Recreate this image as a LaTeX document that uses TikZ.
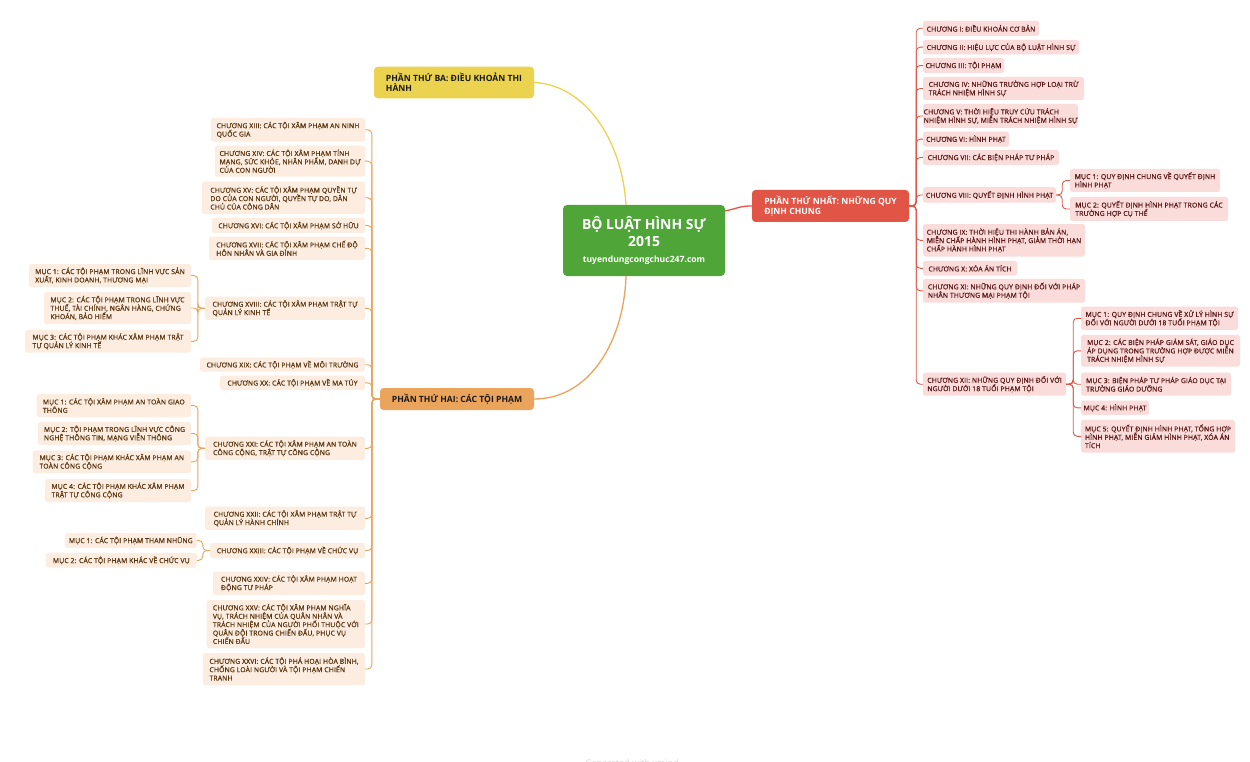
\documentclass[tikz,border=0pt]{standalone}
\usepackage{fontspec}
\setmainfont{Open Sans}
\newfontfamily\smallf[LetterSpace=2.5,FakeBold=0.7]{Open Sans}
\usetikzlibrary{calc}
\definecolor{pinkfill}{HTML}{FADCDA}
\definecolor{pinktext}{HTML}{5A1818}
\definecolor{peachfill}{HTML}{FCEDE0}
\definecolor{peachtext}{HTML}{5A3410}
\definecolor{redline}{HTML}{E15547}
\definecolor{orangeline}{HTML}{EBA45C}
\definecolor{yellowline}{HTML}{EBD34F}
\definecolor{greenbox}{HTML}{50A538}
\definecolor{wmgray}{HTML}{D4D4D4}
\newcommand{\boxfont}{\smallf\fontsize{6.8}{8.4}\selectfont}
\newcommand{\partfont}{\bfseries\fontsize{8.6}{10}\selectfont}
\tikzset{
  base/.style={rounded corners=2.5pt, inner sep=0pt, align=left, font=\boxfont},
  rbox/.style={base, fill=pinkfill, text=pinktext},
  obox/.style={base, fill=peachfill, text=peachtext},
  partbox/.style={rounded corners=3.5pt, inner sep=0pt, align=left, font=\partfont},
  rline/.style={draw=redline, line width=0.9pt, rounded corners=4pt},
  oline/.style={draw=orangeline, line width=0.9pt, rounded corners=4pt},
  mainline/.style={line width=1.3pt},
}
\begin{document}
\begin{tikzpicture}[x=1pt,y=-1pt]
\useasboundingbox (0,0) rectangle (1250,762);
\fill[white] (0,0) rectangle (1250,762);

% central and parts
\node[fill=greenbox, rounded corners=4pt, minimum width=162, minimum height=71, inner sep=0pt, align=center, text=white, font=\bfseries\fontsize{14}{17.4}\selectfont] (ctr) at (644,240.5)
  {BỘ LUẬT HÌNH SỰ\\2015\\[-1pt]{\fontsize{8.6}{10}\selectfont tuyendungcongchuc247.com}};
\node[partbox, fill=yellowline, text=black!90, minimum width=160, minimum height=31.6] (p3) at (454,82.5)
  {PHẦN THỨ BA: ĐIỀU KHOẢN THI\\HÀNH};
\node[partbox, fill=orangeline, text=black!90, minimum width=154, minimum height=22] (p2) at (457,399)
  {PHẦN THỨ HAI: CÁC TỘI PHẠM};
\node[partbox, fill=redline, text=white, minimum width=157, minimum height=32] (p1) at (830.5,206)
  {PHẦN THỨ NHẤT: NHỮNG QUY\\ĐỊNH CHUNG};

% right side
\node[rbox, minimum width=116, minimum height=15] (c1) at (981,28.3) {CHƯƠNG I: ĐIỀU KHOẢN CƠ BẢN};
\node[rbox, minimum width=156, minimum height=14.5] (c2) at (1001,47.2) {CHƯƠNG II: HIỆU LỰC CỦA BỘ LUẬT HÌNH SỰ};
\node[rbox, minimum width=81, minimum height=15] (c3) at (963.5,65.5) {CHƯƠNG III: TỘI PHẠM};
\node[rbox, minimum width=161, minimum height=23] (c4) at (1003.5,88.5) {CHƯƠNG IV: NHỮNG TRƯỜNG HỢP LOẠI TRỪ\\TRÁCH NHIỆM HÌNH SỰ};
\node[rbox, minimum width=155, minimum height=24] (c5) at (1000.5,116) {CHƯƠNG V: THỜI HIỆU TRUY CỨU TRÁCH\\NHIỆM HÌNH SỰ, MIỄN TRÁCH NHIỆM HÌNH SỰ};
\node[rbox, minimum width=86, minimum height=15] (c6) at (966,139.2) {CHƯƠNG VI: HÌNH PHẠT};
\node[rbox, minimum width=136, minimum height=15] (c7) at (991,157.5) {CHƯƠNG VII: CÁC BIỆN PHÁP TƯ PHÁP};
\node[rbox, minimum width=133, minimum height=15.5] (c8) at (989.5,195) {CHƯƠNG VIII: QUYẾT ĐỊNH HÌNH PHẠT};
\node[rbox, minimum width=150, minimum height=23] (m81) at (1145,180.5) {MỤC 1: QUY ĐỊNH CHUNG VỀ QUYẾT ĐỊNH\\HÌNH PHẠT};
\node[rbox, minimum width=158, minimum height=24] (m82) at (1149,209) {MỤC 2: QUYẾT ĐỊNH HÌNH PHẠT TRONG CÁC\\TRƯỜNG HỢP CỤ THỂ};
\node[rbox, minimum width=162, minimum height=32.5] (c9) at (1004,240.3) {CHƯƠNG IX: THỜI HIỆU THI HÀNH BẢN ÁN,\\MIỄN CHẤP HÀNH HÌNH PHẠT, GIẢM THỜI HẠN\\CHẤP HÀNH HÌNH PHẠT};
\node[rbox, minimum width=94, minimum height=14.7] (c10) at (970,268.3) {CHƯƠNG X: XÓA ÁN TÍCH};
\node[rbox, minimum width=162, minimum height=23.7] (c11) at (1004,290.8) {CHƯƠNG XI: NHỮNG QUY ĐỊNH ĐỐI VỚI PHÁP\\NHÂN THƯƠNG MẠI PHẠM TỘI};
\node[rbox, minimum width=143, minimum height=23] (c12) at (994.5,384.2) {CHƯƠNG XII: NHỮNG QUY ĐỊNH ĐỐI VỚI\\NGƯỜI DƯỚI 18 TUỔI PHẠM TỘI};
\node[rbox, minimum width=157, minimum height=23.3] (m121) at (1159.5,318.3) {MỤC 1: QUY ĐỊNH CHUNG VỀ XỬ LÝ HÌNH SỰ\\ĐỐI VỚI NGƯỜI DƯỚI 18 TUỔI PHẠM TỘI};
\node[rbox, minimum width=159, minimum height=31.7] (m122) at (1160.5,350.8) {MỤC 2: CÁC BIỆN PHÁP GIÁM SÁT, GIÁO DỤC\\ÁP DỤNG TRONG TRƯỜNG HỢP ĐƯỢC MIỄN\\TRÁCH NHIỆM HÌNH SỰ};
\node[rbox, minimum width=150, minimum height=23] (m123) at (1156,384.2) {MỤC 3: BIỆN PHÁP TƯ PHÁP GIÁO DỤC TẠI\\TRƯỜNG GIÁO DƯỠNG};
\node[rbox, minimum width=68, minimum height=14.3] (m124) at (1115,407.8) {MỤC 4: HÌNH PHẠT};
\node[rbox, minimum width=154, minimum height=32.7] (m125) at (1158,436.3) {MỤC 5: QUYẾT ĐỊNH HÌNH PHẠT, TỔNG HỢP\\HÌNH PHẠT, MIỄN GIẢM HÌNH PHẠT, XÓA ÁN\\TÍCH};

% left side
\node[obox, minimum width=154, minimum height=23.7] (c13) at (288,129.8) {CHƯƠNG XIII: CÁC TỘI XÂM PHẠM AN NINH\\QUỐC GIA};
\node[obox, minimum width=150, minimum height=31] (c14) at (290,161.2) {CHƯƠNG XIV: CÁC TỘI XÂM PHẠM TÍNH\\MẠNG, SỨC KHỎE, NHÂN PHẨM, DANH DỰ\\CỦA CON NGƯỜI};
\node[obox, minimum width=163, minimum height=32.3] (c15) at (283.5,197.8) {CHƯƠNG XV: CÁC TỘI XÂM PHẠM QUYỀN TỰ\\DO CỦA CON NGƯỜI, QUYỀN TỰ DO, DÂN\\CHỦ CỦA CÔNG DÂN};
\node[obox, minimum width=153, minimum height=15] (c16) at (288.5,225.5) {CHƯƠNG XVI: CÁC TỘI XÂM PHẠM SỞ HỮU};
\node[obox, minimum width=156, minimum height=23.3] (c17) at (287,248.3) {CHƯƠNG XVII: CÁC TỘI XÂM PHẠM CHẾ ĐỘ\\HÔN NHÂN VÀ GIA ĐÌNH};
\node[obox, minimum width=160, minimum height=23.3] (c18) at (285,308.3) {CHƯƠNG XVIII: CÁC TỘI XÂM PHẠM TRẬT TỰ\\QUẢN LÝ KINH TẾ};
\node[obox, minimum width=162, minimum height=23] (m181) at (110,275.5) {MỤC 1: CÁC TỘI PHẠM TRONG LĨNH VỰC SẢN\\XUẤT, KINH DOANH, THƯƠNG MẠI};
\node[obox, minimum width=147, minimum height=32] (m182) at (117.5,308) {MỤC 2: CÁC TỘI PHẠM TRONG LĨNH VỰC\\THUẾ, TÀI CHÍNH, NGÂN HÀNG, CHỨNG\\KHOÁN, BẢO HIỂM};
\node[obox, minimum width=166, minimum height=22.7] (m183) at (108,341.3) {MỤC 3: CÁC TỘI PHẠM KHÁC XÂM PHẠM TRẬT\\TỰ QUẢN LÝ KINH TẾ};
\node[obox, minimum width=165, minimum height=14] (c19) at (282.5,364.7) {CHƯƠNG XIX: CÁC TỘI PHẠM VỀ MÔI TRƯỜNG};
\node[obox, minimum width=145, minimum height=14.3] (c20) at (292.5,382.8) {CHƯƠNG XX: CÁC TỘI PHẠM VỀ MA TÚY};
\node[obox, minimum width=160, minimum height=23.3] (c21) at (285,448.3) {CHƯƠNG XXI: CÁC TỘI XÂM PHẠM AN TOÀN\\CÔNG CỘNG, TRẬT TỰ CÔNG CỘNG};
\node[obox, minimum width=154.3, minimum height=23] (m211) at (113.8,405.5) {MỤC 1: CÁC TỘI XÂM PHẠM AN TOÀN GIAO\\THÔNG};
\node[obox, minimum width=153, minimum height=23] (m212) at (114.5,433.5) {MỤC 2: TỘI PHẠM TRONG LĨNH VỰC CÔNG\\NGHỆ THÔNG TIN, MẠNG VIỄN THÔNG};
\node[obox, minimum width=158.3, minimum height=22.3] (m213) at (111.8,461.8) {MỤC 3: CÁC TỘI PHẠM KHÁC XÂM PHẠM AN\\TOÀN CÔNG CỘNG};
\node[obox, minimum width=146, minimum height=23] (m214) at (118,490.5) {MỤC 4: CÁC TỘI PHẠM KHÁC XÂM PHẠM\\TRẬT TỰ CÔNG CỘNG};
\node[obox, minimum width=160, minimum height=23.3] (c22) at (285,518.3) {CHƯƠNG XXII: CÁC TỘI XÂM PHẠM TRẬT TỰ\\QUẢN LÝ HÀNH CHÍNH};
\node[obox, minimum width=155, minimum height=15] (c23) at (287.5,550.5) {CHƯƠNG XXIII: CÁC TỘI PHẠM VỀ CHỨC VỤ};
\node[obox, minimum width=131.7, minimum height=15] (m231) at (130.8,540.5) {MỤC 1: CÁC TỘI PHẠM THAM NHŨNG};
\node[obox, minimum width=150.7, minimum height=14.7] (m232) at (121.3,560.3) {MỤC 2: CÁC TỘI PHẠM KHÁC VỀ CHỨC VỤ};
\node[obox, minimum width=152, minimum height=23.3] (c24) at (289,583.3) {CHƯƠNG XXIV: CÁC TỘI XÂM PHẠM HOẠT\\ĐỘNG TƯ PHÁP};
\node[obox, minimum width=158.3, minimum height=48] (c25) at (285.8,624) {CHƯƠNG XXV: CÁC TỘI XÂM PHẠM NGHĨA\\VỤ, TRÁCH NHIỆM CỦA QUÂN NHÂN VÀ\\TRÁCH NHIỆM CỦA NGƯỜI PHỐI THUỘC VỚI\\QUÂN ĐỘI TRONG CHIẾN ĐẤU, PHỤC VỤ\\CHIẾN ĐẤU};
\node[obox, minimum width=162, minimum height=32] (c26) at (284,669) {CHƯƠNG XXVI: CÁC TỘI PHÁ HOẠI HÒA BÌNH,\\CHỐNG LOÀI NGƯỜI VÀ TỘI PHẠM CHIẾN\\TRANH};

% main curves
\draw[mainline, draw=redline] (ctr.20) .. controls +(14,-3) and +(-12,0) .. (p1.west);
\draw[mainline, draw=yellowline] (p3.east) .. controls +(51,2.5) and +(-4,-65) .. ($(ctr.north)+(-18,0)$);
\draw[mainline, draw=orangeline] ($(ctr.south)+(-18,0)$) .. controls +(-2,64) and +(56,0) .. (p2.east);

% right connectors
\foreach \c in {c1,c2,c3,c4,c5,c6,c7,c8,c9,c10,c11,c12}
  \draw[rline] (p1.east) -- ++(7,0) |- (\c.west);
\foreach \c in {m81,m82}
  \draw[rline] (c8.east) -- ++(6,0) |- (\c.west);
\foreach \c in {m121,m122,m123,m124,m125}
  \draw[rline] (c12.east) -- ++(7,0) |- (\c.west);

% left connectors
\foreach \c in {c13,c14,c15,c16,c17,c18,c19,c20,c21,c22,c23,c24,c25,c26}
  \draw[oline] (p2.west) -- ++(-8,0) |- (\c.east);
\foreach \c in {m181,m182,m183}
  \draw[oline] (c18.west) -- ++(-7,0) |- (\c.east);
\foreach \c in {m211,m212,m213,m214}
  \draw[oline] (c21.west) -- ++(-7,0) |- (\c.east);
\foreach \c in {m231,m232}
  \draw[oline] (c23.west) -- ++(-7,0) |- (\c.east);

% watermark
\node[anchor=base, text=wmgray, font=\fontsize{9}{10}\selectfont, inner sep=0pt] (wm) at (632,766) {Generated with xmind};
\end{tikzpicture}
\end{document}
